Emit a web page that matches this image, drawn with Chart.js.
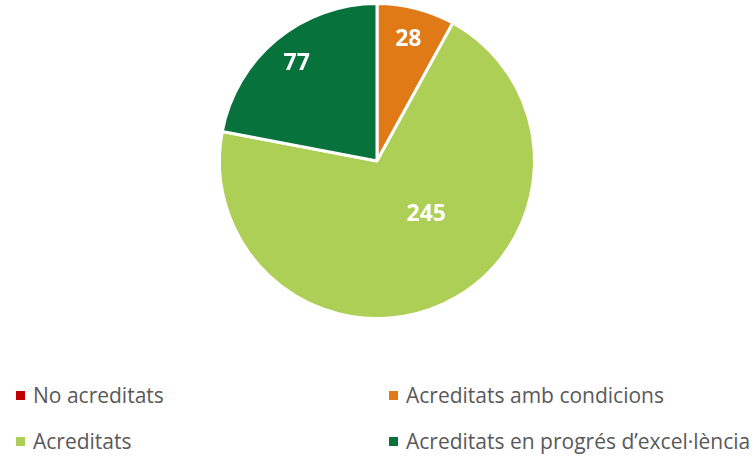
<!DOCTYPE html>
<html>
<head>
<meta charset="utf-8">
<script src="https://cdn.jsdelivr.net/npm/chart.js@4/dist/chart.umd.min.js"></script>
<style>
    body { margin: 0; background: #fff; font-family: "Open Sans", Lato, sans-serif; }
    #wrap { position: relative; width: 754px; height: 456px; }
    #pieBox { position: absolute; left: 0; top: 0; width: 754px; height: 324px; }
    .legend { position: absolute; font-size: 21px; color: #595959; white-space: nowrap; }
    .legend span { display: inline-block; width: 9px; height: 9px; margin-right: 8px; vertical-align: 3px; }
</style>
</head>
<body>
<div id="wrap">
    <div id="pieBox"><canvas id="pie"></canvas></div>
    <div id="legend"></div>
</div>
<script>
const categories = ["No acreditats", "Acreditats amb condicions", "Acreditats", "Acreditats en progrés d’excel·lència"];
const values = [0, 28, 245, 77];
const colors = ["#C00000", "#E07A16", "#ADCF56", "#07723B"];

// legend positions (2 columns)
const legendPos = [[16, 381], [389, 381], [16, 427], [389, 427]];
const legend = document.getElementById("legend");
categories.forEach((c, i) => {
    const d = document.createElement("div");
    d.className = "legend";
    d.style.left = legendPos[i][0] + "px";
    d.style.top = legendPos[i][1] + "px";
    d.innerHTML = `<span style="background:${colors[i]}"></span>${c}`;
    legend.appendChild(d);
});

const labelPlugin = {
    id: "sliceLabels",
    afterDatasetsDraw(chart) {
        const ctx = chart.ctx;
        const meta = chart.getDatasetMeta(0);
        ctx.save();
        ctx.fillStyle = "#fff";
        ctx.font = "bold 23px 'Open Sans', Lato, sans-serif";
        ctx.textAlign = "center";
        ctx.textBaseline = "middle";
        meta.data.forEach((arc, i) => {
            if (!values[i]) return;
            const p = arc.getProps(["x", "y", "startAngle", "endAngle", "outerRadius"], true);
            const big = values[i] > 150;
            const a = p.startAngle + (p.endAngle - p.startAngle) * (big ? 0.43 : 0.5);
            const f = big ? 0.46 : 0.8;
            ctx.fillText(values[i], p.x + Math.cos(a) * p.outerRadius * f, p.y + Math.sin(a) * p.outerRadius * f);
        });
        ctx.restore();
    }
};

new Chart(document.getElementById("pie"), {
    type: "pie",
    data: {
        labels: categories,
        datasets: [{
            data: values,
            backgroundColor: colors,
            borderColor: "#fff",
            borderWidth: 3
        }]
    },
    options: {
        responsive: true,
        maintainAspectRatio: false,
        animation: false,
        layout: { padding: { top: 2, bottom: 4 } },
        plugins: { legend: { display: false }, tooltip: { enabled: false } }
    },
    plugins: [labelPlugin]
});
</script>
</body>
</html>
